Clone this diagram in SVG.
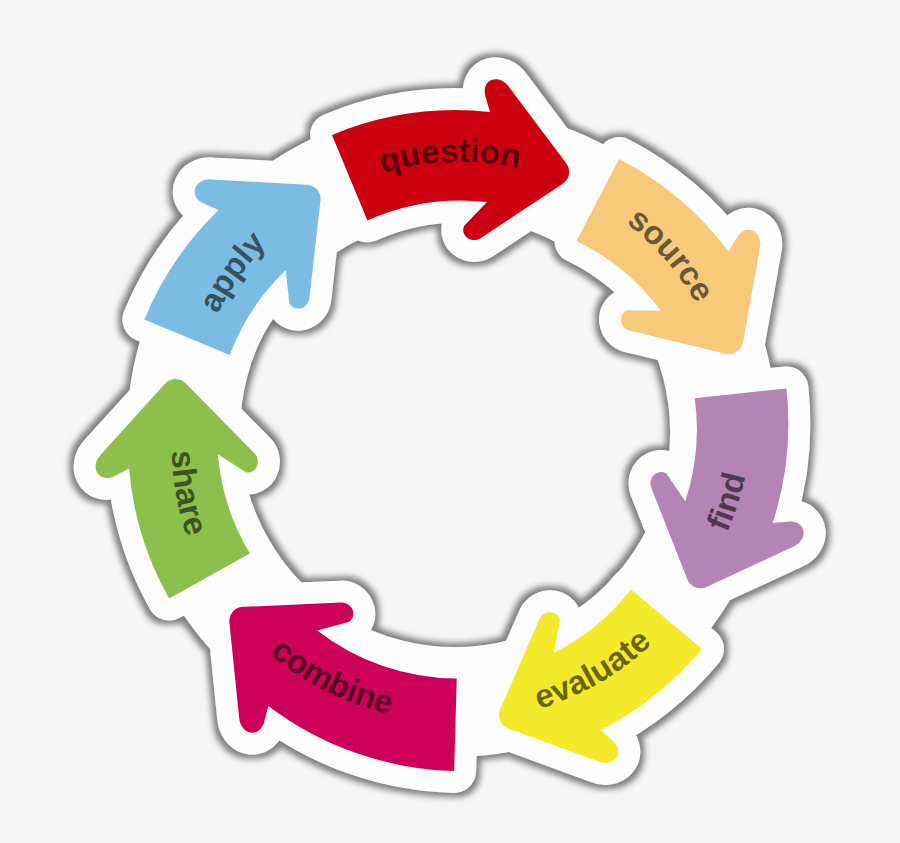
<svg xmlns="http://www.w3.org/2000/svg" xmlns:xlink="http://www.w3.org/1999/xlink" width="900" height="843" viewBox="0 0 900 843">
<style>
.lbl{font-family:"Liberation Sans","Arial",sans-serif;font-weight:bold;font-size:33px;fill:#000;fill-opacity:0.58;text-anchor:middle}
.halo{fill:#fdfdfd;stroke:#fdfdfd;stroke-width:44;stroke-linejoin:round}
</style>
<defs>
<filter id="shadow" x="-10%" y="-10%" width="120%" height="120%">
<feMorphology in="SourceAlpha" operator="dilate" radius="4" result="d"/>
<feGaussianBlur in="d" stdDeviation="3" result="b"/>
<feFlood flood-color="#7d7d7d"/>
<feComposite in2="b" operator="in" result="s"/>
<feMerge><feMergeNode in="s"/><feMergeNode in="SourceGraphic"/></feMerge>
</filter>
<path id="tu" d="M -150 54.5 A 270 270 0 0 1 150 54.5"/>
<path id="td" d="M -150 -33.1 A 288 288 0 0 0 150 -33.1"/>
<path id="aq" d="M 332 135 A 321.5 321.5 0 0 1 490 112 L 485 95 C 482 78 500 74 509 87 L 566 163 C 572 171 569 181 561 185 L 481 238 C 472 244 460 236 464 226 L 487 202 A 229 229 0 0 0 367.4 220.4 Z"/>
<path id="as" d="M 347.7 129 A 321.5 321.5 0 0 1 490 112 L 485 95 C 482 78 500 74 509 87 L 566 163 C 572 171 569 181 561 185 L 481 238 C 472 244 460 236 464 226 L 487 202 A 229 229 0 0 0 378.6 216.1 Z"/>
<path id="af" d="M 355.6 126.5 A 321.5 321.5 0 0 1 490 112 L 485 95 C 482 78 500 74 509 87 L 566 163 C 572 171 569 181 561 185 L 481 238 C 472 244 460 236 464 226 L 487 202 A 229 229 0 0 0 384.2 214.2 Z"/>
<path id="ae" d="M 360.5 124.7 A 321.5 321.5 0 0 1 490 112 L 485 95 C 482 78 500 74 509 87 L 566 163 C 572 171 569 181 561 185 L 481 238 C 472 244 460 236 464 226 L 487 202 A 229 229 0 0 0 387.7 213.1 Z"/>
<path id="ac" d="M 297.2 151.9 A 321.5 321.5 0 0 1 490 112 L 485 95 C 482 78 500 74 509 87 L 566 163 C 572 171 569 181 561 185 L 481 238 C 472 244 460 236 464 226 L 487 202 A 229 229 0 0 0 342.6 232.5 Z"/>
<path id="ash" d="M 354.6 126.6 A 321.5 321.5 0 0 1 490 112 L 485 95 C 482 78 500 74 509 87 L 566 163 C 572 171 569 181 561 185 L 481 238 C 472 244 460 236 464 226 L 487 202 A 229 229 0 0 0 383.5 214.4 Z"/>
<path id="aa" d="M 358.3 125.4 A 321.5 321.5 0 0 1 490 112 L 485 95 C 482 78 500 74 509 87 L 566 163 C 572 171 569 181 561 185 L 481 238 C 472 244 460 236 464 226 L 487 202 A 229 229 0 0 0 386.1 213.6 Z"/>
</defs>
<rect width="900" height="843" fill="#f6f6f6"/>
<g id="sticker" filter="url(#shadow)">
<path fill="#fdfdfd" fill-rule="evenodd" d="M 452 107 A 325 325 0 1 1 451.9 107 Z M 455 217 A 215 215 0 1 0 455.1 217 Z"/>
<use xlink:href="#aq" class="halo"/>
<use xlink:href="#as" class="halo" transform="translate(705.3,302.3) rotate(47) translate(-511.3,-163.7)"/>
<use xlink:href="#af" class="halo" transform="translate(717.7,533) rotate(102) translate(-511.3,-163.7)"/>
<use xlink:href="#ae" class="halo" transform="translate(554.3,698.3) rotate(147) translate(-511.3,-163.7)"/>
<use xlink:href="#ac" class="halo" transform="translate(276.7,650.7) rotate(211) translate(-511.3,-163.7)"/>
<use xlink:href="#ash" class="halo" transform="translate(175.7,437.7) rotate(259) translate(-511.3,-163.7)"/>
<use xlink:href="#aa" class="halo" transform="translate(272,227) rotate(310) translate(-511.3,-163.7)"/>
</g>
<g id="question">
<use xlink:href="#aq" fill="#cc0011"/>
<g transform="translate(450,153) rotate(-2)"><text class="lbl"><textPath xlink:href="#tu" startOffset="50%">question</textPath></text></g>
</g>
<g id="source">
<use xlink:href="#as" fill="#f7c97b" transform="translate(705.3,302.3) rotate(47) translate(-511.3,-163.7)"/>
<g transform="translate(672,254) rotate(49)"><text class="lbl"><textPath xlink:href="#tu" startOffset="50%">source</textPath></text></g>
</g>
<g id="find">
<use xlink:href="#af" fill="#b484b4" transform="translate(717.7,533) rotate(102) translate(-511.3,-163.7)"/>
<g transform="translate(729,502) rotate(-72)"><text class="lbl"><textPath xlink:href="#td" startOffset="50%">find</textPath></text></g>
</g>
<g id="evaluate">
<use xlink:href="#ae" fill="#f5e92b" transform="translate(554.3,698.3) rotate(147) translate(-511.3,-163.7)"/>
<g transform="translate(595,675) rotate(-30)"><text class="lbl"><textPath xlink:href="#td" startOffset="50%">evaluate</textPath></text></g>
</g>
<g id="combine">
<use xlink:href="#ac" fill="#cc0058" transform="translate(276.7,650.7) rotate(211) translate(-511.3,-163.7)"/>
<g transform="translate(330,683) rotate(26.6)"><text class="lbl"><textPath xlink:href="#td" startOffset="50%">combine</textPath></text></g>
</g>
<g id="share">
<use xlink:href="#ash" fill="#8cbf4b" transform="translate(175.7,437.7) rotate(259) translate(-511.3,-163.7)"/>
<g transform="translate(185,493) rotate(80)"><text class="lbl"><textPath xlink:href="#td" startOffset="50%">share</textPath></text></g>
</g>
<g id="apply">
<use xlink:href="#aa" fill="#7bbce3" transform="translate(272,227) rotate(310) translate(-511.3,-163.7)"/>
<g transform="translate(232,272) rotate(-55)"><text class="lbl"><textPath xlink:href="#tu" startOffset="50%">apply</textPath></text></g>
</g>
</svg>
